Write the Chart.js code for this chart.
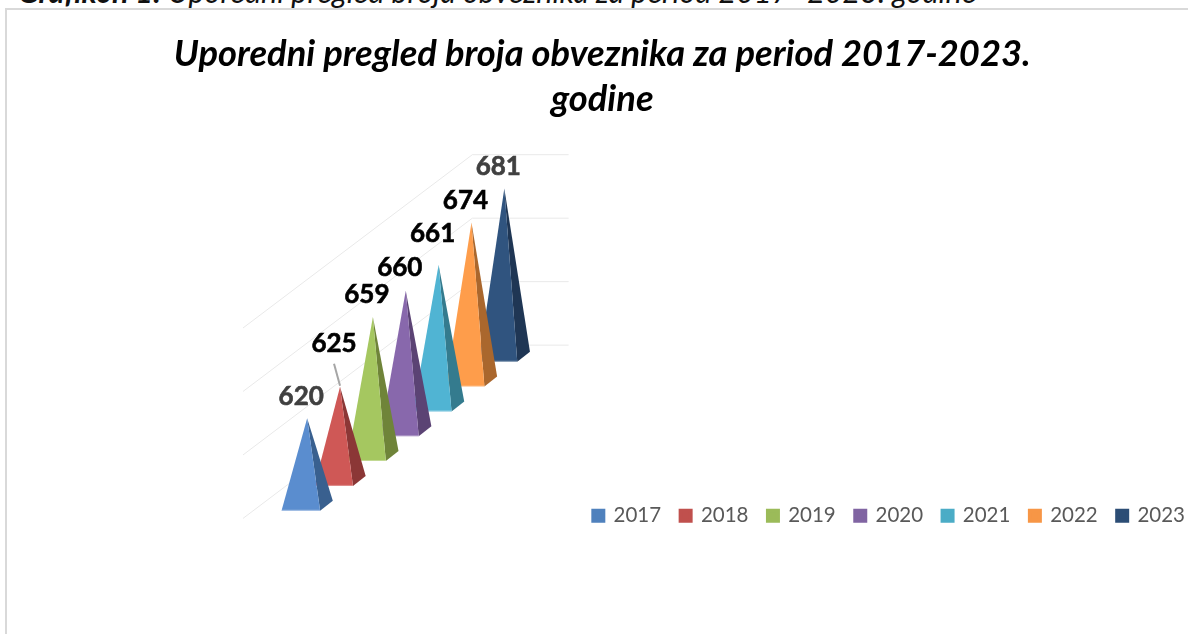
<!DOCTYPE html>
<html>
<head>
<meta charset="utf-8">
<title>Uporedni pregled broja obveznika</title>
<script src="https://cdn.jsdelivr.net/npm/chart.js@4"></script>
<style>
  html, body { margin: 0; padding: 0; background: #fff; overflow: hidden; }
  #caption {
    position: absolute; left: 18px; top: -27px; height: 36px;
    font: italic 400 30.5px/36px Lato, sans-serif; color: #111; white-space: nowrap;
  }
  #caption b { font-weight: 700; }
  #frame {
    position: absolute; left: 5px; top: 8px; width: 1190px; height: 640px;
    border-left: 2px solid #d9d9d9; border-top: 2px solid #d9d9d9;
  }
  #chart { position: absolute; left: 0; top: 0; }
</style>
</head>
<body>
<div id="caption"><b>Grafikon 1:</b> Uporedni pregled broja obveznika za period 2017- 2023. godine</div>
<div id="frame"></div>
<canvas id="chart" width="1188" height="634"></canvas>
<script>
const chartTitle = ['Uporedni pregled broja obveznika za period 2017-2023.', 'godine'];
const years = [2017, 2018, 2019, 2020, 2021, 2022, 2023];
const values = [620, 625, 659, 660, 661, 674, 681];
const gridTicks = [550, 600, 650, 700];

const legendColours = ['#4f81bd', '#c0504d', '#9bbb59', '#8064a2', '#4bacc6', '#f79646', '#2c4d75'];
const frontColours = ['#5a8dcf', '#cf5856', '#a5c760', '#8868ac', '#50b4d3', '#fe9d4b', '#30547f'];
const sideColours = ['#39608f', '#8b3736', '#6f8439', '#5b4374', '#347b8e', '#aa672d', '#1f3654'];
const labelColours = ['#404040', '#000', '#000', '#000', '#000', '#000', '#404040'];

// 3D look of the pyramids, all in pixels except the year stops of the back wall
const look = {
  baseWidth: 38.6,
  sideX: 12.7,
  sideY: 10,
  depthPerYear: 24.83,
  wallLift: 36,
  wallScale: 0.96,
  wallFrom: 2015.24,
  wallCorner: 2022.22,
  wallTo: 2025.15,
  labelLift: [22, 43, 22, 23, 31, 22, 22],
  labelShift: -6
};

const pyramidPlugin = {
  id: 'pyramids',
  afterDatasetsDraw(chart) {
    const { ctx, scales: { x, y } } = chart;
    const floorY = (year) => y.getPixelForValue(gridTicks[0]) - look.wallLift - (year - years[0]) * look.depthPerYear;

    // back wall: floor/side lines running into the depth, then the wall itself
    ctx.save();
    ctx.strokeStyle = '#e9e9e9';
    ctx.lineWidth = 1;
    gridTicks.forEach((tick) => {
      const lift = (y.getPixelForValue(gridTicks[0]) - y.getPixelForValue(tick)) * look.wallScale;
      ctx.beginPath();
      ctx.moveTo(x.getPixelForValue(look.wallFrom), floorY(look.wallFrom) - lift);
      ctx.lineTo(x.getPixelForValue(look.wallCorner), floorY(look.wallCorner) - lift);
      ctx.lineTo(x.getPixelForValue(look.wallTo), floorY(look.wallCorner) - lift);
      ctx.stroke();
    });

    // back to front so nearer pyramids cover the ones behind
    for (let i = years.length - 1; i >= 0; i--) {
      const shift = i * look.depthPerYear;
      const cx = x.getPixelForValue(years[i]);
      const baseY = y.getPixelForValue(gridTicks[0]) - shift;
      const left = cx - look.baseWidth / 2;
      const right = cx + look.baseWidth / 2;
      const apexX = cx + look.sideX / 2;
      const apexY = y.getPixelForValue(values[i]) - shift;

      ctx.fillStyle = sideColours[i];
      ctx.beginPath();
      ctx.moveTo(right, baseY);
      ctx.lineTo(right + look.sideX, baseY - look.sideY);
      ctx.lineTo(apexX, apexY);
      ctx.closePath();
      ctx.fill();

      ctx.fillStyle = frontColours[i];
      ctx.beginPath();
      ctx.moveTo(left, baseY);
      ctx.lineTo(right, baseY);
      ctx.lineTo(apexX, apexY);
      ctx.closePath();
      ctx.fill();

      // thin light edge along the front of the base
      ctx.strokeStyle = 'rgba(255, 255, 255, 0.35)';
      ctx.lineWidth = 1;
      ctx.beginPath();
      ctx.moveTo(left, baseY - 0.5);
      ctx.lineTo(right, baseY - 0.5);
      ctx.stroke();
    }

    // value labels, 2018 sits higher and gets a leader line
    ctx.font = '700 26px Lato, sans-serif';
    ctx.textAlign = 'center';
    ctx.textBaseline = 'middle';
    years.forEach((year, i) => {
      const apexX = x.getPixelForValue(year) + look.sideX / 2;
      const apexY = y.getPixelForValue(values[i]) - i * look.depthPerYear;
      const lift = look.labelLift[i];
      if (lift > 40) {
        ctx.strokeStyle = '#a6a6a6';
        ctx.lineWidth = 2;
        ctx.beginPath();
        ctx.moveTo(apexX - 6, apexY - lift + 20);
        ctx.lineTo(apexX, apexY - 1);
        ctx.stroke();
      }
      ctx.fillStyle = labelColours[i];
      ctx.strokeStyle = labelColours[i];
      ctx.lineWidth = 0.6;
      ctx.fillText(values[i], apexX + look.labelShift, apexY - lift);
      ctx.strokeText(values[i], apexX + look.labelShift, apexY - lift);
    });
    ctx.restore();
  }
};

new Chart(document.getElementById('chart'), {
  type: 'scatter',
  data: {
    datasets: years.map((year, i) => ({
      label: String(year),
      data: [{ x: year, y: values[i] }],
      backgroundColor: legendColours[i],
      borderColor: legendColours[i],
      borderWidth: 4,
      pointRadius: 0
    }))
  },
  options: {
    responsive: false,
    animation: false,
    layout: { padding: { left: 0, right: -16.5, top: 0, bottom: 98 } },
    scales: {
      x: { type: 'linear', display: false, min: 2007.845, max: 2044 },
      y: { type: 'linear', display: false, min: 568.7, max: 837.9 }
    },
    plugins: {
      tooltip: { enabled: false },
      title: {
        display: true,
        text: chartTitle,
        color: '#000',
        font: { family: 'Lato, sans-serif', size: 36.3, weight: '700', style: 'italic', lineHeight: 1.24 },
        padding: { top: 31.5, bottom: 8.5 }
      },
      legend: {
        position: 'bottom',
        align: 'end',
        labels: {
          boxWidth: 10,
          boxHeight: 10,
          padding: 19.5,
          color: '#595959',
          font: { family: 'Lato, sans-serif', size: 20.5 }
        }
      }
    }
  },
  plugins: [pyramidPlugin]
});
</script>
</body>
</html>
